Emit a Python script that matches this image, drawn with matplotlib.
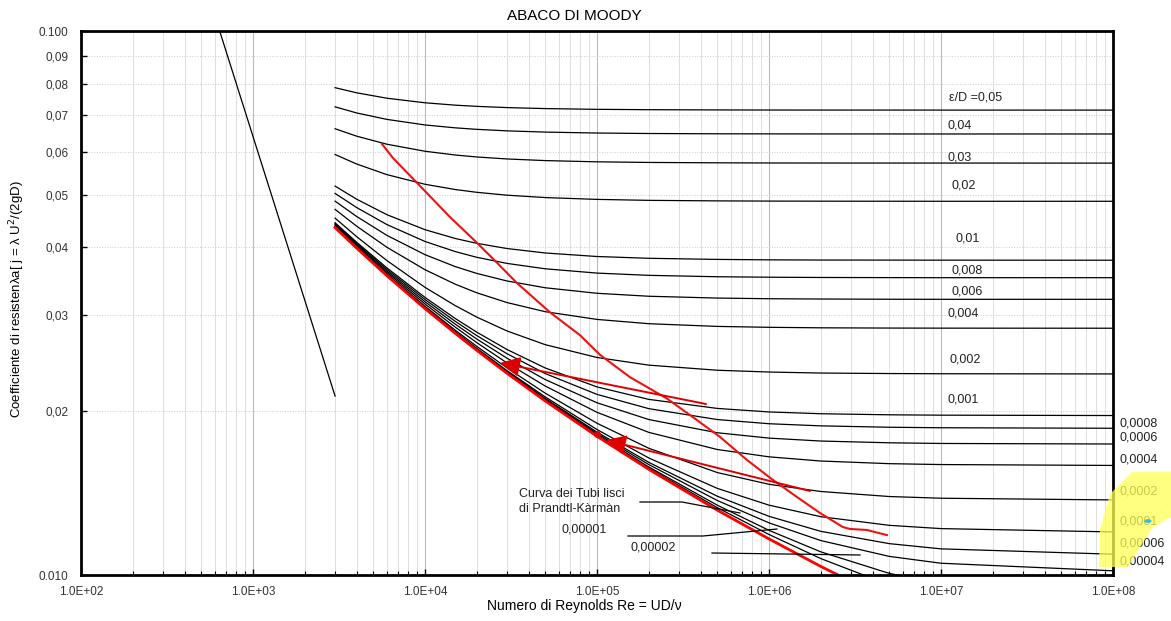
import numpy as np
import matplotlib
matplotlib.use("Agg")
import matplotlib.pyplot as plt
from matplotlib.patches import Polygon, Circle
from matplotlib.ticker import FixedLocator, LogLocator, NullFormatter, FixedFormatter

plt.rcParams['font.family'] = ['Liberation Sans', 'DejaVu Sans']

# Reynolds numbers where the curves were read
re_pts = [3e3, 4e3, 6e3, 1e4, 1.5e4, 2e4, 3e4, 5e4, 1e5, 2e5, 5e5, 1e6, 2e6, 5e6, 1e7, 1e8]

# friction factor read for each relative roughness
f_005 = [0.07867, 0.07699, 0.07524, 0.07380, 0.07306, 0.07269, 0.07231, 0.07201, 0.07178, 0.07167, 0.07160, 0.07157, 0.07156, 0.07156, 0.07155, 0.07155]
f_004 = [0.07254, 0.07070, 0.06879, 0.06719, 0.06637, 0.06595, 0.06553, 0.06519, 0.06493, 0.06480, 0.06472, 0.06470, 0.06468, 0.06468, 0.06467, 0.06467]
f_003 = [0.06612, 0.06408, 0.06193, 0.06011, 0.05916, 0.05867, 0.05818, 0.05778, 0.05748, 0.05733, 0.05724, 0.05720, 0.05719, 0.05718, 0.05718, 0.05717]
f_002 = [0.05929, 0.05696, 0.05445, 0.05227, 0.05112, 0.05052, 0.04991, 0.04941, 0.04903, 0.04883, 0.04872, 0.04868, 0.04866, 0.04865, 0.04864, 0.04864]
f_001 = [0.05187, 0.04908, 0.04596, 0.04313, 0.04155, 0.04071, 0.03982, 0.03908, 0.03850, 0.03821, 0.03803, 0.03796, 0.03793, 0.03792, 0.03791, 0.03790]
f_0008 = [0.05029, 0.04738, 0.04408, 0.04103, 0.03931, 0.03837, 0.03739, 0.03655, 0.03589, 0.03555, 0.03534, 0.03527, 0.03523, 0.03521, 0.03520, 0.03520]
f_0006 = [0.04867, 0.04562, 0.04211, 0.03880, 0.03689, 0.03584, 0.03471, 0.03373, 0.03295, 0.03254, 0.03229, 0.03220, 0.03216, 0.03213, 0.03212, 0.03212]
f_0004 = [0.04700, 0.04379, 0.04004, 0.03641, 0.03424, 0.03302, 0.03168, 0.03048, 0.02950, 0.02897, 0.02864, 0.02853, 0.02847, 0.02844, 0.02843, 0.02842]
f_0002 = [0.04529, 0.04189, 0.03785, 0.03379, 0.03127, 0.02979, 0.02809, 0.02651, 0.02511, 0.02431, 0.02379, 0.02361, 0.02351, 0.02346, 0.02344, 0.02342]
f_0001 = [0.04441, 0.04091, 0.03670, 0.03238, 0.02961, 0.02795, 0.02597, 0.02402, 0.02217, 0.02103, 0.02024, 0.01994, 0.01979, 0.01970, 0.01967, 0.01964]
f_00008 = [0.04423, 0.04071, 0.03646, 0.03209, 0.02926, 0.02755, 0.02551, 0.02346, 0.02148, 0.02022, 0.01931, 0.01897, 0.01880, 0.01869, 0.01865, 0.01861]
f_00006 = [0.04406, 0.04051, 0.03622, 0.03179, 0.02891, 0.02715, 0.02503, 0.02287, 0.02073, 0.01931, 0.01826, 0.01785, 0.01763, 0.01750, 0.01745, 0.01741]
f_00004 = [0.04388, 0.04031, 0.03599, 0.03149, 0.02855, 0.02674, 0.02453, 0.02225, 0.01991, 0.01829, 0.01701, 0.01649, 0.01620, 0.01602, 0.01596, 0.01590]
f_00002 = [0.04370, 0.04011, 0.03575, 0.03119, 0.02818, 0.02632, 0.02402, 0.02159, 0.01901, 0.01710, 0.01543, 0.01468, 0.01424, 0.01394, 0.01384, 0.01374]
f_00001 = [0.04361, 0.04001, 0.03562, 0.03104, 0.02799, 0.02610, 0.02375, 0.02125, 0.01851, 0.01641, 0.01443, 0.01344, 0.01280, 0.01234, 0.01217, 0.01200]
f_000006 = [0.04357, 0.03997, 0.03558, 0.03098, 0.02792, 0.02601, 0.02365, 0.02111, 0.01831, 0.01611, 0.01396, 0.01282, 0.01203, 0.01142, 0.01117, 0.01092]
f_000004 = [0.04356, 0.03995, 0.03555, 0.03094, 0.02788, 0.02597, 0.02359, 0.02104, 0.01820, 0.01596, 0.01371, 0.01247, 0.01157, 0.01082, 0.01051, 0.01018]
f_000002 = [0.04354, 0.03993, 0.03553, 0.03091, 0.02784, 0.02593, 0.02354, 0.02096, 0.01810, 0.01580, 0.01344, 0.01208, 0.01103, 0.01007, 0.00962, 0.00908]
f_000001 = [0.04353, 0.03992, 0.03552, 0.03090, 0.02782, 0.02591, 0.02351, 0.02093, 0.01804, 0.01572, 0.01330, 0.01187, 0.01072, 0.00959, 0.00900, 0.00819]
f_smooth = [0.04352, 0.03991, 0.03550, 0.03088, 0.02781, 0.02588, 0.02348, 0.02089, 0.01799, 0.01564, 0.01316, 0.01165, 0.01037, 0.00898, 0.00810, 0.00594]

rough_curves = [f_005, f_004, f_003, f_002, f_001, f_0008, f_0006, f_0004, f_0002, f_0001,
                f_00008, f_00006, f_00004, f_00002, f_00001, f_000006, f_000004, f_000002, f_000001]

# laminar flow line
re_lam = [640, 3000]
f_lam = [0.1, 0.02133]

# red working line
re_red = [5620, 6516, 8980, 13970, 20050, 26220, 34270, 53300, 79600, 104000, 155600, 255300,
          361500, 519000, 745000, 1.055e6, 1.455e6, 1.98e6, 2.69e6, 2.96e6, 3.71e6, 4.85e6]
f_red = [0.0620, 0.0584, 0.0526, 0.0455, 0.0408, 0.0375, 0.0344, 0.0304, 0.0276, 0.0254, 0.0231, 0.0211,
         0.0195, 0.01794, 0.01627, 0.01495, 0.01391, 0.0130, 0.01225, 0.01215, 0.01210, 0.01184]

# red arrows (tail -> head)
arrow_tails = [(430500, 0.02062), (1.73e6, 0.01427)]
arrow_heads = [(27300, 0.02454), (112800, 0.0177)]
dot_re, dot_f = 1e5, 0.0182

y_ticks = [0.01, 0.02, 0.03, 0.04, 0.05, 0.06, 0.07, 0.08, 0.09, 0.1]
y_ticklabels = ['0.010', '0,02', '0,03', '0,04', '0,05', '0,06', '0,07', '0,08', '0,09', '0.100']
x_ticks = [1e2, 1e3, 1e4, 1e5, 1e6, 1e7, 1e8]
x_ticklabels = ['1.0E+02', '1.0E+03', '1.0E+04', '1.0E+05', '1.0E+06', '1.0E+07', '1.0E+08']

W, H = 1171, 621


def fp(x, y):
    # pixel -> figure fraction
    return x / W, 1 - y / H


fig = plt.figure(figsize=(11.71, 6.21), dpi=100)
ax = fig.add_axes([81 / W, 1 - 575 / H, (1113 - 81) / W, (575 - 31) / H])
ax.set_xscale('log')
ax.set_yscale('log')
ax.set_xlim(1e2, 1e8)
ax.set_ylim(0.01, 0.1)

ax.plot(re_lam, f_lam, color='black', lw=0.9)
for f in rough_curves:
    ax.plot(re_pts, f, color='black', lw=0.9)
ax.plot(re_pts, f_smooth, color='#ff0000', lw=2.0)

ax.plot(re_red, f_red, color='#ee1111', lw=1.5)
for (xt, yt), (xh, yh) in zip(arrow_tails, arrow_heads):
    ax.annotate('', xy=(xh, yh), xytext=(xt, yt),
                arrowprops=dict(arrowstyle='-|>', color='#dd0000', lw=1.4, mutation_scale=30,
                                shrinkA=0, shrinkB=0))
ax.plot([dot_re], [dot_f], 'o', color='#dd0000', ms=4)

# axes styling
ax.yaxis.set_major_locator(FixedLocator(y_ticks))
ax.yaxis.set_major_formatter(FixedFormatter(y_ticklabels))
ax.yaxis.set_minor_locator(FixedLocator([]))
ax.xaxis.set_major_locator(FixedLocator(x_ticks))
ax.xaxis.set_major_formatter(FixedFormatter(x_ticklabels))
ax.xaxis.set_minor_locator(LogLocator(base=10, subs=np.arange(2, 10), numticks=20))
ax.xaxis.set_minor_formatter(NullFormatter())
ax.tick_params(axis='both', which='both', direction='in', labelsize=8.5, colors='black')
ax.tick_params(axis='x', which='major', length=4, width=1, pad=8)
ax.tick_params(axis='x', which='minor', length=3, width=0.8)
ax.tick_params(axis='y', which='major', length=4, width=1, pad=9)
for lbl in ax.get_yticklabels() + ax.get_xticklabels():
    lbl.set_color('#333333')
ax.grid(which='major', axis='x', color='#bbbbbb', lw=0.8)
ax.grid(which='minor', axis='x', color='#dedede', lw=0.7)
ax.grid(which='major', axis='y', color='#cccccc', lw=0.7, ls=':')
ax.set_axisbelow(True)
for s in ax.spines.values():
    s.set_linewidth(2.0)

ax.set_title('ABACO DI MOODY', fontsize=11, x=0.478, pad=8)
ax.set_xlabel('Numero di Reynolds Re = UD/\u03bd', fontsize=10)
ax.xaxis.set_label_coords(0.488, -0.045)
ax.set_ylabel('Coefficiente di resisten\u03bba[ j = \u03bb U$^2$/(2gD)', fontsize=9.5)
ax.yaxis.set_label_coords(-0.052, 0.507)

# roughness labels (pixel positions of the reference)
labels = [('\u03b5/D =0,05', 949, 97), ('0,04', 947, 126), ('0,03', 947, 157), ('0,02', 951, 186),
          ('0,01', 956, 239), ('0,008', 951, 271), ('0,006', 951, 292), ('0,004', 948, 314),
          ('0,002', 950, 360), ('0,001', 947, 399),
          ('0,0008', 1119, 423), ('0,0006', 1119, 438), ('0,0004', 1119, 460), ('0,0002', 1119, 491),
          ('0,0001', 1119, 521), ('0,00006', 1119, 544), ('0,00004', 1119, 561),
          ('Curva dei Tubi lisci', 519, 494), ('di Prandtl-K\u00e0rm\u00e0n', 519, 509),
          ('0,00001', 561, 530), ('0,00002', 630, 548)]
for txt, px, py in labels:
    fx, fy = fp(px, py)
    fig.text(fx, fy, txt, fontsize=9, va='center', ha='left', color='#222222')

# leader lines for the small-roughness labels
leaders = [[(640, 502), (682, 502), (740, 513)],
           [(628, 536), (703, 536), (777, 529)],
           [(712, 553), (860, 555)]]
for pts in leaders:
    xs = [fp(p[0], p[1])[0] for p in pts]
    ys = [fp(p[0], p[1])[1] for p in pts]
    fig.add_artist(plt.Line2D(xs, ys, color='black', lw=0.9))

# highlighter mark at the bottom right
hl = [(1132, 472), (1171, 472), (1171, 517), (1152, 528), (1128, 567), (1099, 567), (1100, 530), (1110, 494)]
fig.add_artist(Polygon([fp(x, y) for x, y in hl], closed=True, transform=fig.transFigure,
                       facecolor='#ffff55', edgecolor='none', alpha=0.75, zorder=10))
fig.add_artist(Circle(fp(1148, 521), 3.5 / W, transform=fig.transFigure,
                      facecolor='#33bbee', edgecolor='none', zorder=11))

fig.savefig('out.png', dpi=100)
